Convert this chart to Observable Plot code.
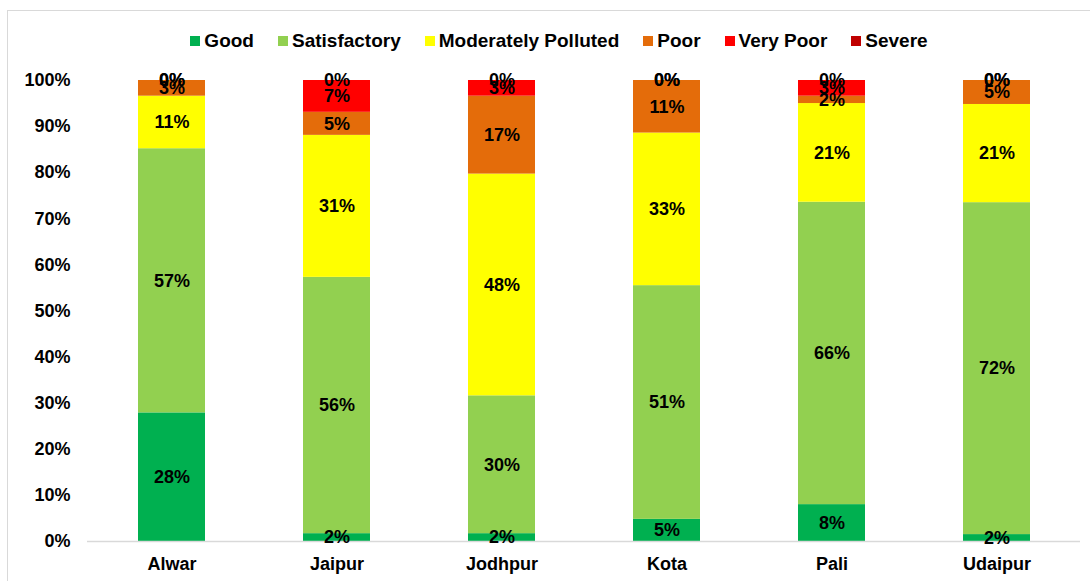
<!DOCTYPE html>
<html>
<head>
<meta charset="utf-8">
<script src="https://cdn.jsdelivr.net/npm/d3@7"></script>
<script src="https://cdn.jsdelivr.net/npm/@observablehq/plot@0.6"></script>
<style>
  html, body { margin: 0; padding: 0; background: #fff; overflow: hidden; }
  #wrap { position: relative; width: 1090px; height: 581px; font-family: "Liberation Sans", Arial, sans-serif; }
  #frame { position: absolute; left: 7px; top: 10px; width: 1100px; height: 600px; border: 1.5px solid #d9d9d9; box-sizing: border-box; pointer-events: none; }
  #legend { position: relative; height: 60px; box-sizing: border-box; padding-top: 22px; padding-left: 28px; display: flex; justify-content: center; align-items: center; font-size: 19px; font-weight: bold; color: #000; line-height: 20px; }
  .item { display: flex; align-items: center; margin: 0 12px; }
  .sw { width: 10px; height: 10px; margin-right: 4px; }
  #chart { position: relative; }
</style>
</head>
<body>
<div id="wrap">
  <div id="frame"></div>
  <div id="legend"></div>
  <div id="chart"></div>
</div>
<script>
const cities = ["Alwar", "Jaipur", "Jodhpur", "Kota", "Pali", "Udaipur"];
const categories = ["Good", "Satisfactory", "Moderately Polluted", "Poor", "Very Poor", "Severe"];
const colors = ["#00B050", "#92D050", "#FFFF00", "#E46C0A", "#FF0000", "#C00000"];

const good               = [27.9,  1.7,  1.7,  4.8,  8.0,  1.5];
const satisfactory       = [57.3, 55.6, 29.9, 50.7, 65.6, 72.0];
const moderatelyPolluted = [11.4, 30.8, 48.1, 33.1, 21.4, 21.3];
const poor               = [ 3.4,  5.0, 16.9, 11.4,  1.6,  5.2];
const veryPoor           = [ 0.0,  6.9,  3.4,  0.0,  3.4,  0.0];
const severe             = [ 0.0,  0.0,  0.0,  0.0,  0.0,  0.0];

const series = [good, satisfactory, moderatelyPolluted, poor, veryPoor, severe];
const data = [];
cities.forEach((city, i) => {
  categories.forEach((cat, j) => {
    data.push({city, cat, value: series[j][i]});
  });
});

const legend = document.getElementById("legend");
categories.forEach((c, i) => {
  const it = document.createElement("div");
  it.className = "item";
  it.innerHTML = `<div class="sw" style="background:${colors[i]}"></div><span>${c}</span>`;
  legend.appendChild(it);
});

const chart = Plot.plot({
  width: 1090,
  height: 521,
  marginTop: 20,
  marginBottom: 40,
  marginLeft: 87,
  marginRight: 10,
  style: { fontFamily: '"Liberation Sans", Arial, sans-serif', fontSize: "18px", fontWeight: "bold", color: "#000", background: "transparent" },
  x: { domain: cities, paddingInner: 0.595, paddingOuter: 0.2975, label: null, tickSize: 0, tickPadding: 16 },
  y: { domain: [0, 100], ticks: d3.range(0, 101, 10), tickFormat: d => d + "%", label: null, tickSize: 0, tickPadding: 17 },
  color: { domain: categories, range: colors },
  marks: [
    Plot.barY(data, { x: "city", y: "value", fill: "cat", order: categories }),
    Plot.ruleY([0], { stroke: "#d9d9d9", strokeWidth: 1.5 }),
    Plot.text(data, Plot.stackY({
      x: "city", y: "value", z: "cat", order: categories,
      text: d => Math.round(d.value) + "%",
      fill: "#000", fontSize: 18, fontWeight: "bold"
    }))
  ]
});
document.getElementById("chart").appendChild(chart);
</script>
</body>
</html>
